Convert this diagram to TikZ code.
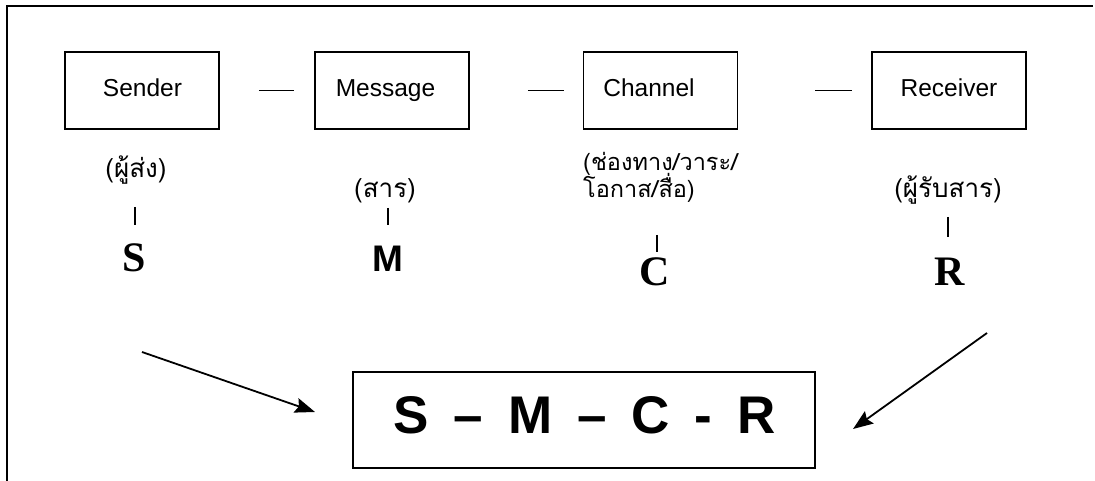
\documentclass[tikz,border=0pt]{standalone}
\usepackage{fontspec}
\setmainfont{Liberation Sans}
\newfontfamily\thaifont[Script=Thai]{Loma}
\newfontfamily\serifletters{Liberation Serif}
\usetikzlibrary{arrows.meta}
\begin{document}
\begin{tikzpicture}[x=1pt,y=-1pt,
  box/.style={draw,line width=1.8pt,minimum width=154pt,minimum height=77pt,inner sep=0pt},
  boxtext/.style={font=\fontsize{24.5}{28}\selectfont,inner sep=0pt,anchor=base},
  thai/.style={font=\thaifont\fontsize{26}{27}\selectfont,inner sep=0pt,anchor=base},
  letter/.style={font=\serifletters\bfseries\fontsize{42}{44}\selectfont,inner sep=0pt,anchor=base},
  letsans/.style={font=\bfseries\fontsize{37}{40}\selectfont,inner sep=0pt,anchor=base},
  link/.style={line width=1.6pt},
  bar/.style={line width=1.5pt},
  arr/.style={line width=1.8pt,-{Stealth[length=20pt,width=15pt,inset=3pt]}},
  frame/.style={line width=2.2pt}]
\useasboundingbox (0,0) rectangle (1095,481);
% outer frame (top and left sides only)
\draw[frame] (7,481) -- (7,6) -- (1093,6);
% top boxes
\node[box] (sender) at (142,90.5) {};
\node[box] (message) at (392,90.5) {};
\node[box] (channel) at (660.5,90.5) {};
\node[box] (receiver) at (949,90.5) {};
\node[boxtext] (sendertxt) at (142.5,97) {Sender};
\node[boxtext] (messagetxt) at (385.5,97) {Message};
\node[boxtext] (channeltxt) at (649,97) {Channel};
\node[boxtext] (receivertxt) at (949,97) {Receiver};
% dashes between boxes
\draw[link,shorten <=39pt,shorten >=20pt] (sender) -- (message);
\draw[link,shorten <=58pt,shorten >=19pt] (message) -- (channel);
\draw[link,shorten <=77pt,shorten >=19pt] (channel) -- (receiver);
% thai labels
\node[thai] (lblS) at (136,178) {(ผู้ส่ง)};
\node[thai] (lblM) at (385,198) {(สาร)};
\node[thai,font=\thaifont\fontsize{23.5}{27}\selectfont,anchor=base west] (lblC1) at (583,171) {(ช่องทาง/วาระ/};
\node[thai,font=\thaifont\fontsize{23.5}{27}\selectfont,anchor=base west] (lblC2) at (583,198) {โอกาส/สื่อ)};
\node[thai] (lblR) at (948,198) {(ผู้รับสาร)};
% bars
\coordinate (bS1) at (135,207); \coordinate (bS2) at (135,225);
\coordinate (bM1) at (388,208); \coordinate (bM2) at (388,225);
\coordinate (bC1) at (657,235); \coordinate (bC2) at (657,252);
\coordinate (bR1) at (948,217); \coordinate (bR2) at (948,237);
\draw[bar] (bS1) -- (bS2);
\draw[bar] (bM1) -- (bM2);
\draw[bar] (bC1) -- (bC2);
\draw[bar] (bR1) -- (bR2);
% letters
\node[letter] (letS) at (134,272) {S};
\node[letsans] (letM) at (388,272) {M};
\node[letter] (letC) at (655,285) {C};
\node[letter] (letR) at (950,285) {R};
% bottom box
\node[draw,line width=1.8pt,minimum width=462pt,minimum height=96pt,inner sep=0pt] (smcr) at (584,420) {};
\node[inner sep=0pt,anchor=base,font=\bfseries\fontsize{53}{60}\selectfont] (smcrtxt) at (584.5,433)
  {S\hspace{0.47em}–\hspace{0.47em}M\hspace{0.47em}–\hspace{0.47em}C\hspace{0.47em}-\hspace{0.47em}R};
% arrows
\coordinate (a1s) at (142,352); \coordinate (a1e) at (315,412);
\coordinate (a2s) at (987,333); \coordinate (a2e) at (853,429);
\draw[arr] (a1s) -- (a1e);
\draw[arr] (a2s) -- (a2e);
\end{tikzpicture}
\end{document}
